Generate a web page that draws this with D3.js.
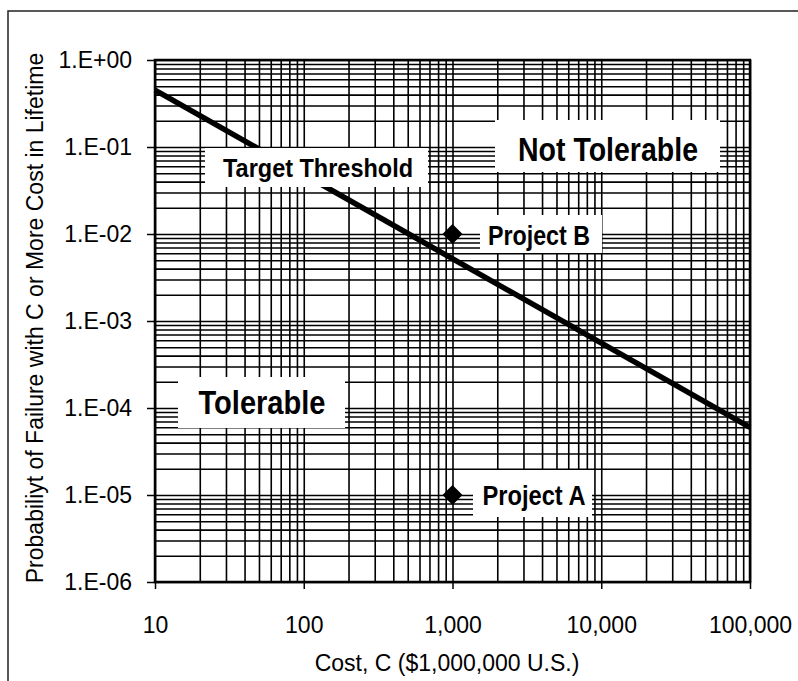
<!DOCTYPE html>
<html>
<head>
<meta charset="utf-8">
<script src="https://cdn.jsdelivr.net/npm/d3@7"></script>
<style>
  body { margin: 0; background: #fff; }
  svg { display: block; }
</style>
</head>
<body>
<svg id="chart"></svg>
<script>
// chart values
var costTicks = [10, 100, 1000, 10000, 100000];
var costTickLabels = ['10', '100', '1,000', '10,000', '100,000'];
var probTicks = [1, 1e-1, 1e-2, 1e-3, 1e-4, 1e-5, 1e-6];
var probTickLabels = ['1.E+00', '1.E-01', '1.E-02', '1.E-03', '1.E-04', '1.E-05', '1.E-06'];
var thresholdCost = [10, 100000];
var thresholdProb = [0.45, 6e-5];
var projectNames = ['Project A', 'Project B'];
var projectCost = [1000, 1000];
var projectProb = [1e-5, 1e-2];

var W = 798, H = 681;
var margin = { top: 60, right: 48, bottom: 99, left: 155 };
var width = W - margin.left - margin.right;   // 595
var height = H - margin.top - margin.bottom;  // 522
var font = '"Liberation Sans", Arial, sans-serif';

var svg = d3.select('#chart').attr('width', W).attr('height', H);

// outer frame (runs off the right and bottom of the picture)
svg.append('rect')
    .attr('x', 8).attr('y', 11)
    .attr('width', 820).attr('height', 700)
    .attr('fill', 'none').attr('stroke', '#222').attr('stroke-width', 1.5);

var g = svg.append('g').attr('transform', 'translate(' + margin.left + ',' + margin.top + ')');

var x = d3.scaleLog().domain([10, 100000]).range([0, width]);
var y = d3.scaleLog().domain([1e-6, 1]).range([height, 0]);

// all grid values 1..9 per decade
function gridValues(lo, hi) {
    var vals = [];
    for (var e = lo; e < hi; e++) {
        for (var m = 1; m < 10; m++) vals.push(m * Math.pow(10, e));
    }
    vals.push(Math.pow(10, hi));
    return vals;
}

g.append('g')
    .attr('class', 'x-grid')
    .attr('transform', 'translate(0,' + height + ')')
    .call(d3.axisBottom(x).tickValues(gridValues(1, 5)).tickSize(-height).tickFormat(''))
    .call(function (s) { s.select('.domain').remove(); })
    .selectAll('line').attr('stroke', '#000').attr('stroke-width', 1.6);

g.append('g')
    .attr('class', 'y-grid')
    .call(d3.axisLeft(y).tickValues(gridValues(-6, 0)).tickSize(-width).tickFormat(''))
    .call(function (s) { s.select('.domain').remove(); })
    .selectAll('line').attr('stroke', '#000').attr('stroke-width', 1.6);

// threshold line
var line = d3.line()
    .x(function (d) { return x(d[0]); })
    .y(function (d) { return y(d[1]); });
g.append('path')
    .datum(d3.zip(thresholdCost, thresholdProb))
    .attr('fill', 'none')
    .attr('stroke', '#000')
    .attr('stroke-width', 5.5)
    .attr('d', line);

// label boxes that blank out the grid
var labels = [
    { text: 'Target Threshold', box: [205, 148, 223, 39], cx: 318, base: 177, size: 25, len: 190 },
    { text: 'Not Tolerable', box: [495, 120, 225, 52], cx: 608, base: 161, size: 34, len: 180 },
    { text: 'Tolerable', box: [178, 377, 167, 51], cx: 262, base: 414, size: 34, len: 127 },
    { text: projectNames[1], box: [480, 215, 122, 38], cx: 539, base: 245, size: 27, len: 102 },
    { text: projectNames[0], box: [473, 470, 119, 47], cx: 534, base: 505, size: 27, len: 103 }
];
labels.forEach(function (l) {
    svg.append('rect')
        .attr('x', l.box[0]).attr('y', l.box[1])
        .attr('width', l.box[2]).attr('height', l.box[3])
        .attr('fill', '#fff');
    svg.append('text')
        .attr('x', l.cx).attr('y', l.base)
        .attr('text-anchor', 'middle')
        .attr('font-family', font)
        .attr('font-weight', 'bold')
        .attr('font-size', l.size)
        .attr('textLength', l.len)
        .attr('lengthAdjust', 'spacingAndGlyphs')
        .text(l.text);
});

// project points
var diamond = d3.symbol().type(d3.symbolSquare).size(200);
g.selectAll('.project')
    .data(d3.zip(projectCost, projectProb))
    .enter().append('path')
    .attr('class', 'project')
    .attr('d', diamond)
    .attr('fill', '#000')
    .attr('transform', function (d) { return 'translate(' + x(d[0]) + ',' + y(d[1]) + ') rotate(45)'; });

// plot frame
g.append('rect')
    .attr('width', width).attr('height', height)
    .attr('fill', 'none').attr('stroke', '#000').attr('stroke-width', 2.5);

// axes
var xAxis = d3.axisBottom(x)
    .tickValues(costTicks)
    .tickSize(7).tickPadding(28)
    .tickFormat(function (d, i) { return costTickLabels[i]; });
var yAxis = d3.axisLeft(y)
    .tickValues(probTicks)
    .tickSize(8).tickPadding(15)
    .tickFormat(function (d, i) { return probTickLabels[i]; });

g.append('g').attr('class', 'x-axis')
    .attr('transform', 'translate(0,' + height + ')')
    .call(xAxis)
    .call(function (s) { s.select('.domain').remove(); })
    .call(function (s) {
        s.selectAll('line').attr('stroke', '#000').attr('stroke-width', 1.5);
        s.selectAll('text').attr('font-family', font).attr('font-size', 23).attr('fill', '#000');
    });

g.append('g').attr('class', 'y-axis')
    .call(yAxis)
    .call(function (s) { s.select('.domain').remove(); })
    .call(function (s) {
        s.selectAll('line').attr('stroke', '#000').attr('stroke-width', 1.5);
        s.selectAll('text').attr('font-family', font).attr('font-size', 23).attr('fill', '#000');
    });

// axis titles
svg.append('text')
    .attr('x', 447).attr('y', 671)
    .attr('text-anchor', 'middle')
    .attr('font-family', font).attr('font-size', 23)
    .text('Cost, C ($1,000,000 U.S.)');

svg.append('text')
    .attr('transform', 'translate(43,318) rotate(-90)')
    .attr('text-anchor', 'middle')
    .attr('font-family', font).attr('font-size', 23)
    .text('Probabiliyt of Failure with C or More Cost in Lifetime');
</script>
</body>
</html>
